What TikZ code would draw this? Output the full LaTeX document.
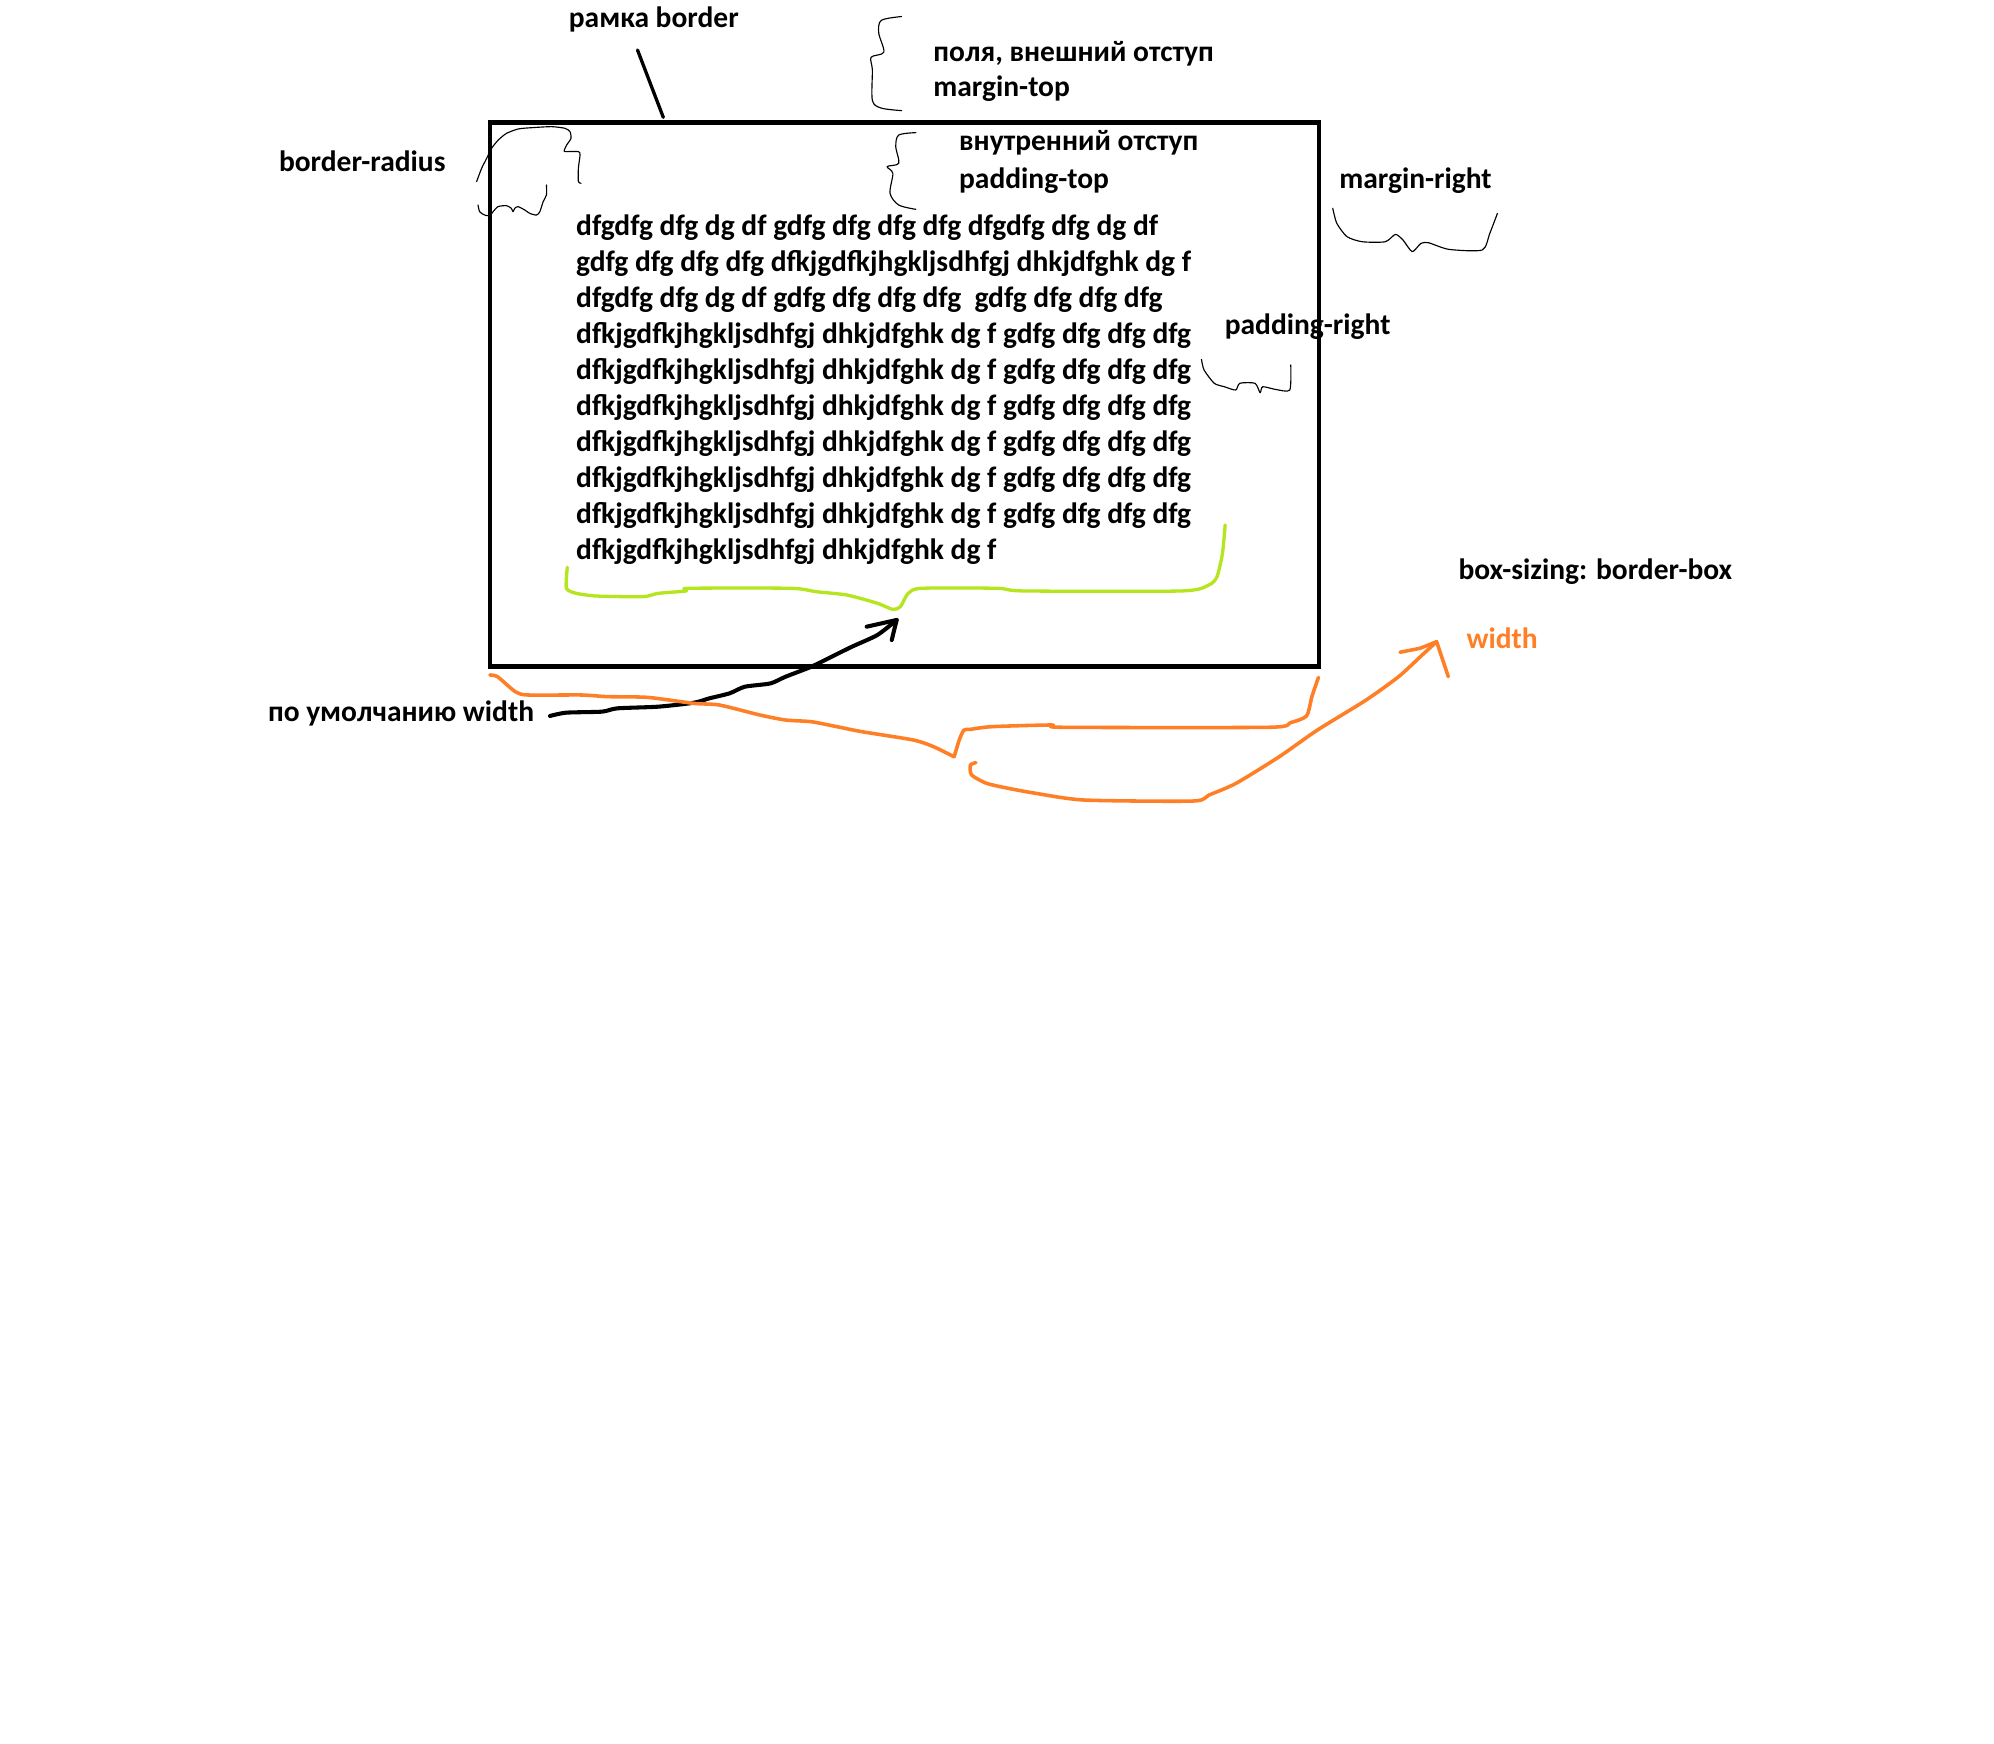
\documentclass[tikz,border=0pt]{standalone}
\usepackage{fontspec}
\setmainfont{Carlito}
\definecolor{limec}{HTML}{B5E61D}
\definecolor{orangec}{HTML}{FF7F27}
\begin{document}
\begin{tikzpicture}[x=1pt,y=-1pt,
  lbl/.style={anchor=base west,inner sep=0pt,font=\fontsize{23.2}{28}\selectfont\bfseries},
  pen/.style={draw=black,line width=0.9pt,line join=round,line cap=round},
  marker/.style={draw=black,line width=3.2pt,line join=round,line cap=round},
  limepen/.style={draw=limec,line width=2.6pt,line join=round,line cap=round},
  orangepen/.style={draw=orangec,line width=2.8pt,line join=round,line cap=round}]
\useasboundingbox (0,0) rectangle (1568,1371);
\fill[white] (0,0) rectangle (1568,1371);

% the block with its thick border
\node[draw, line width=3.6pt, anchor=north west, inner sep=0pt,
      minimum width=651.9pt, minimum height=428pt] (box) at (383.6,94.4) {};

% labels
\node[lbl] (border) at (447.1,22) {рамка border};
\node[lbl] (margintop1) at (733.8,48.5) {поля, внешний отступ};
\node[lbl] (margintop2) at (733.8,76) {margin-top};
\node[lbl] (radius) at (219.2,135) {border-radius};
\node[lbl] (paddingtop1) at (754,118) {внутренний отступ};
\node[lbl] (paddingtop2) at (754,148) {padding-top};
\node[lbl] (marginright) at (1053,148) {margin-right};
\node[lbl] (paddingright) at (962.9,263.4) {padding-right};
\node[lbl] (boxsizing) at (1146.7,455.6) {box-sizing: border-box};
\node[lbl, text=orangec] (bbwidth) at (1153.1,509.8) {width};
\node[lbl] (defwidth) at (210.6,567.5) {по умолчанию width};

% content of the block
\def\rowA{dfkjgdfkjhgkljsdhfgj dhkjdfghk dg f gdfg dfg dfg dfg}
\node[lbl] (t1) at (452.9,184.8) {dfgdfg dfg dg df gdfg dfg dfg dfg dfgdfg dfg dg df};
\node[lbl] (t2) at (452.9,213.1) {gdfg dfg dfg dfg dfkjgdfkjhgkljsdhfgj dhkjdfghk dg f};
\node[lbl] (t3) at (452.9,241.5) {dfgdfg dfg dg df gdfg dfg dfg dfg\ \ gdfg dfg dfg dfg};
\node[lbl] (t4) at (452.9,269.8) {\rowA};
\node[lbl] (t5) at (452.9,298.1) {\rowA};
\node[lbl] (t6) at (452.9,326.5) {\rowA};
\node[lbl] (t7) at (452.9,354.8) {\rowA};
\node[lbl] (t8) at (452.9,383.1) {\rowA};
\node[lbl] (t9) at (452.9,411.4) {\rowA};
\node[lbl] (t10) at (452.9,439.8) {dfkjgdfkjhgkljsdhfgj dhkjdfghk dg f};

% pointer to the border
\coordinate (borderfoot) at (501.3,39.3);
\coordinate (bordertop) at (521.6,92.3);
\draw[line width=2.6pt, line cap=round] (borderfoot) -- (bordertop);

% margin-top brace
\draw[pen] plot[smooth, tension=0.5] coordinates {(709,13) (693,16) (691,26) (695,41) (685,45) (686,55) (686,79) (693,85) (709,87)};

% padding-top brace
\draw[pen] plot[smooth, tension=0.5] coordinates {(720.2,104.3) (706.7,106.2) (704.4,115.3) (706.7,128.4) (697.6,131) (702.1,136.3) (699.9,152) (706.7,161.2) (720.2,164.6)};

% border-radius scribbles
\draw[pen] plot[smooth, tension=0.4] coordinates {(374.8,142.8) (378.7,132.4) (382.7,124.5) (386.6,116.6) (391.8,110.1) (398.4,104.8) (407.6,101.4) (418.1,100.4) (433.8,99.6) (444.3,100.9) (448.2,103.5) (449,108.8) (445.6,114) (443.8,117.9) (444.3,119.2) (454.8,119.2) (456.1,121.9) (454.8,132.4) (454.8,142.8) (456.9,144.1)};
\draw[pen] plot[smooth, tension=0.4] coordinates {(375.9,161.2) (377.2,166.5) (381.1,169.1) (385.1,169.6) (387.7,166.5) (391.6,162.5) (398.2,161.7) (402.1,163.8) (403.4,166.5) (404.8,163.8) (407.4,162.5) (412.6,165.1) (416.6,167.8) (421.8,169.1) (424.5,166.5) (427.1,158.6) (429.7,153.3) (429.7,145.4)};

% margin-right brace
\draw[pen] plot[smooth, tension=0.4] coordinates {(1048,163.8) (1051.2,175.6) (1059.2,186.1) (1071.2,190.1) (1089.3,190.1) (1097.3,184.3) (1103.3,188.8) (1110.5,197.9) (1117.3,191.4) (1123.4,190.9) (1139.4,196.1) (1165.5,196.6) (1171.5,183.5) (1177.5,167.8)};

% padding-right brace
\draw[pen] plot[smooth, tension=0.4] coordinates {(944.8,282.6) (946.8,290.9) (954.8,301.4) (962.8,304.1) (971.7,306.7) (974.9,301.4) (986.9,301.4) (990.9,308.8) (992.9,304.1) (1003,306.2) (1014.2,306.7) (1015,287)};

% content width brace
\draw[limepen] plot[smooth, tension=0.4] coordinates {(446.1,446.1) (445.4,462.6) (453.4,466.6) (469.4,468.7) (505.5,469.2) (517.5,466.6) (539.6,464.7) (541.6,462.6) (621.8,462.6) (641.9,465.3) (666,467.9) (690,474.4) (702,479.2) (708,477.1) (714.1,466.6) (724.8,462.6) (784.4,462.6) (805.7,464.7) (929.3,464.7) (950.6,460.0) (957,453.4) (961.3,435.1) (963.4,412.8)};

% default width arrow
\coordinate (defstart) at (432.5,563);
\coordinate (deftip) at (705.1,487.5);
\draw[marker] plot[smooth, tension=0.4] coordinates {(defstart) (445.3,560.4) (473.4,559.6) (485.4,557) (517.5,555.7) (545.6,552.6) (557.6,549.2) (573.7,545.2) (585.7,540) (605.8,537.4) (617.8,532.1) (637.9,524.3) (654,516.4) (670,508.5) (690,499.3) (deftip)};
\draw[marker] (681.5,492.8) -- (deftip) -- (701.2,503.3);

% border-box width brace
\draw[orangepen] plot[smooth, tension=0.4] coordinates {(385.2,530.8) (391.2,532.1) (405.2,543.9) (415.2,546.5) (457.3,546.5) (477.4,547.8) (509.5,548.4) (545.6,553.1) (565.7,554.4) (597.8,562.3) (617.8,566.2) (637.9,567.5) (658,571.4) (678,575.4) (718.2,581.9) (734.2,587.2) (750.3,595.1)};
\draw[orangepen] plot[smooth, tension=0.4] coordinates {(750.3,595.1) (754.3,581.9) (758,574.1) (763.1,573.5) (780.1,571.4) (827,570.1) (835.5,571.9) (997.5,571.9) (1014.6,568.3) (1027.4,563) (1031.6,547.8) (1036.8,532.6)};

% border-box width arrow
\coordinate (bbstart) at (767.4,599.7);
\coordinate (bbtip) at (1129.7,504.6);
\draw[orangepen] plot[smooth, tension=0.4] coordinates {(bbstart) (763.1,601.6) (764,609.4) (775.9,616) (793,619.9) (814.3,623.8) (852.6,629.1) (937.9,629.9) (950.6,625.2) (971.9,616) (1006,595) (1035.9,574.1) (1074.2,550.5) (1099.8,532.1) (1116.9,516.4) (bbtip)};
\draw[orangepen] (1100.9,512.9) -- (1116.6,509.8) -- (bbtip) -- (1138.9,532.1);
\end{tikzpicture}
\end{document}
